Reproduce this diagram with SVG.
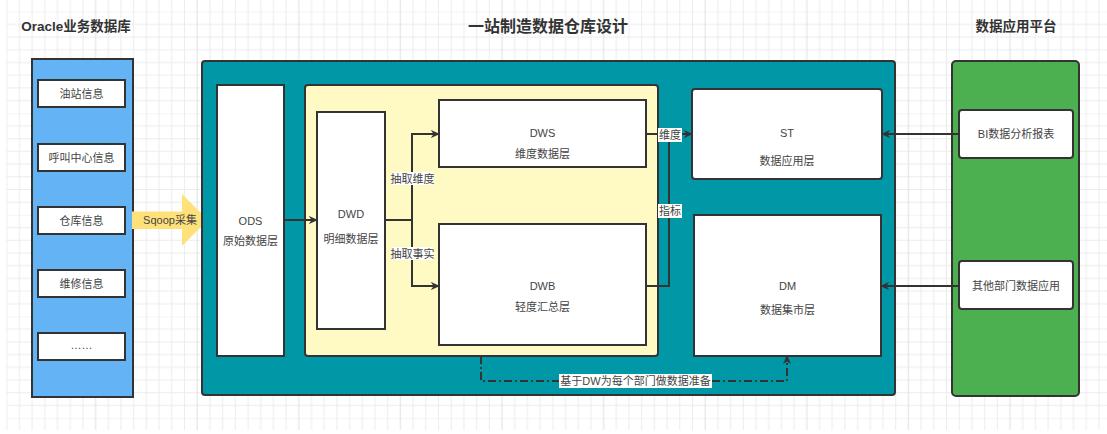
<svg xmlns="http://www.w3.org/2000/svg" width="1107" height="434" viewBox="0 0 1107 434">
<style>
.t{font-family:"Liberation Sans","Noto Sans CJK SC",sans-serif;font-size:11px;fill:#444;text-anchor:middle;dominant-baseline:central}
.h{font-family:"Liberation Sans","Noto Sans CJK SC",sans-serif;font-weight:bold;fill:#333;text-anchor:middle;dominant-baseline:central}
.box{fill:#fff;stroke:#333;stroke-width:2}
.panel{stroke:#333;stroke-width:2}
.c{fill:none;stroke:#333;stroke-width:2}
.lb{fill:#fff}
</style>
<defs>
<pattern id="g" x="6.7" y="11.7" width="101.6" height="101.6" patternUnits="userSpaceOnUse">
<path d="M0,0V101.6M12.7,0V101.6M25.4,0V101.6M38.1,0V101.6M50.8,0V101.6M63.5,0V101.6M76.2,0V101.6M101.6,0V101.6M0,0H101.6M0,12.7H101.6M0,25.4H101.6M0,38.1H101.6M0,50.8H101.6M0,63.5H101.6M0,76.2H101.6M0,88.9H101.6" stroke="#ececec" stroke-width="1" fill="none"/>
<path d="M88.9,0V101.6" stroke="#e0e0e0" stroke-width="1" fill="none"/>
</pattern>
<marker id="a" viewBox="0 0 10 10" refX="9" refY="5" markerWidth="9" markerHeight="8" markerUnits="userSpaceOnUse" orient="auto" preserveAspectRatio="none">
<path d="M0,0L10,5L0,10L3,5z" fill="#333"/>
</marker>
</defs>
<rect width="1107" height="434" fill="#fff"/>
<rect x="6" y="0" width="1101" height="430" fill="url(#g)"/>

<g id="titles">
<text class="h" x="76" y="26" font-size="13.5">Oracle业务数据库</text>
<text class="h" x="548" y="26" font-size="16">一站制造数据仓库设计</text>
<text class="h" x="1016" y="26" font-size="13.5">数据应用平台</text>
</g>

<g id="oracle-panel">
<rect class="panel" x="32" y="59" width="101" height="338" fill="#63B3F5"/>
</g>
<g id="src-1"><rect class="box" x="38" y="80" width="87" height="27"/><text class="t" x="81.5" y="93.5">油站信息</text></g>
<g id="src-2"><rect class="box" x="38" y="144" width="87" height="27"/><text class="t" x="81.5" y="157.5">呼叫中心信息</text></g>
<g id="src-3"><rect class="box" x="38" y="207" width="87" height="27"/><text class="t" x="81.5" y="220.5">仓库信息</text></g>
<g id="src-4"><rect class="box" x="38" y="270" width="87" height="27"/><text class="t" x="81.5" y="283.5">维修信息</text></g>
<g id="src-5"><rect class="box" x="38" y="333" width="87" height="27"/><text class="t" x="81.5" y="344.5">……</text></g>

<g id="sqoop">
<polygon points="132,211.5 182,211.5 182,194 208,220 182,246 182,229 132,229" fill="#FFE17C"/>
<text class="t" x="170" y="220" font-size="12">Sqoop采集</text>
</g>

<g id="dw-panel">
<rect class="panel" x="202" y="61" width="693" height="334" rx="3" fill="#0097A7"/>
</g>
<g id="ods"><rect class="box" x="217" y="85" width="67" height="271"/><text class="t" x="250.5" y="221" font-size="12">ODS</text><text class="t" x="250.5" y="241">原始数据层</text></g>
<g id="dw-core"><rect class="panel" x="305" y="85" width="353" height="271" rx="3" fill="#FFF9C4"/></g>
<g id="dwd"><rect class="box" x="317" y="112" width="68" height="217"/><text class="t" x="351" y="214" font-size="12">DWD</text><text class="t" x="351" y="239">明细数据层</text></g>
<g id="dws"><rect class="box" x="439" y="100" width="207" height="67"/><text class="t" x="542.5" y="133" font-size="12">DWS</text><text class="t" x="542.5" y="154">维度数据层</text></g>
<g id="dwb"><rect class="box" x="439" y="224" width="207" height="121"/><text class="t" x="542.5" y="286" font-size="12">DWB</text><text class="t" x="542.5" y="307">轻度汇总层</text></g>
<g id="st"><rect class="box" x="692" y="89" width="190" height="90" rx="3"/><text class="t" x="787" y="133" font-size="12">ST</text><text class="t" x="787" y="161">数据应用层</text></g>
<g id="dm"><rect class="box" x="694" y="215" width="187" height="141"/><text class="t" x="787.5" y="286" font-size="12">DM</text><text class="t" x="787.5" y="310">数据集市层</text></g>

<g id="app-panel">
<rect class="panel" x="952" y="61" width="127" height="335" rx="4" fill="#4CAF50"/>
</g>
<g id="bi"><rect class="box" x="959" y="110" width="114" height="48" rx="3"/><text class="t" x="1016" y="134">BI数据分析报表</text></g>
<g id="other"><rect class="box" x="959" y="261" width="114" height="48" rx="3"/><text class="t" x="1016" y="286">其他部门数据应用</text></g>

<g id="connectors">
<path class="c" d="M284,220H317" marker-end="url(#a)"/>
<path class="c" d="M386,220H412V134H439" marker-end="url(#a)"/>
<path class="c" d="M386,220H412V286H439" marker-end="url(#a)"/>
<path class="c" d="M646,134H692" marker-end="url(#a)"/>
<path class="c" d="M646,286H669V134"/>
<path class="c" d="M959,134H882" marker-end="url(#a)"/>
<path class="c" d="M959,286H881" marker-end="url(#a)"/>
<path class="c" d="M481,356V381H787V356" stroke-dasharray="8 3 2 3" marker-end="url(#a)"/>
<rect class="lb" x="392" y="172" width="41" height="13"/>
<text class="t" x="412.5" y="178.5">抽取维度</text>
<rect class="lb" x="392" y="247" width="41" height="13"/>
<text class="t" x="412.5" y="253.5">抽取事实</text>
<rect class="lb" x="658" y="128" width="24" height="14"/>
<text class="t" x="670" y="135">维度</text>
<rect class="lb" x="658" y="204" width="24" height="14"/>
<text class="t" x="670" y="211">指标</text>
<rect class="lb" x="559" y="374" width="153" height="14"/>
<text class="t" x="635.5" y="381">基于DW为每个部门做数据准备</text>
</g>
</svg>
